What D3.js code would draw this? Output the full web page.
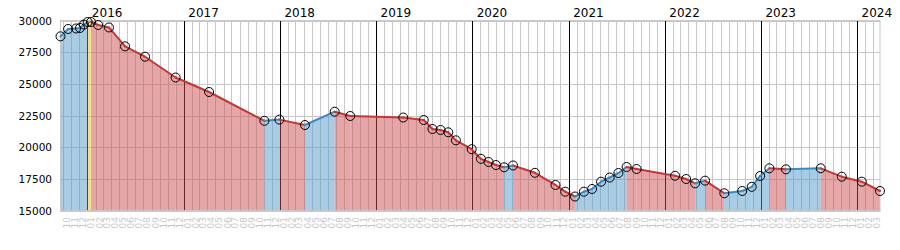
<!DOCTYPE html>
<html>
<head>
<meta charset="utf-8">
<script src="https://cdn.jsdelivr.net/npm/d3@7"></script>
<style>
  body { margin: 0; background: #fff; }
  svg text { font-family: "DejaVu Sans", Verdana, sans-serif; }
</style>
</head>
<body>
<svg id="chart" width="900" height="250"></svg>
<script>
// measurement dates and values
const dates = [
  "2015-09-21", "2015-10-20", "2015-11-19", "2015-12-04", "2015-12-19",
  "2016-01-02", "2016-01-15", "2016-02-11", "2016-03-23", "2016-05-23",
  "2016-08-07", "2016-12-01", "2017-04-07", "2017-11-03", "2017-12-30",
  "2018-04-06", "2018-07-28", "2018-09-25", "2019-04-14", "2019-07-01",
  "2019-08-03", "2019-09-03", "2019-10-02", "2019-10-31", "2019-12-30",
  "2020-02-03", "2020-03-03", "2020-03-31", "2020-05-01", "2020-06-04",
  "2020-08-26", "2020-11-12", "2020-12-19", "2021-01-25", "2021-02-28",
  "2021-03-31", "2021-05-04", "2021-06-06", "2021-07-09", "2021-08-09",
  "2021-09-16", "2022-02-09", "2022-03-23", "2022-04-26", "2022-06-03",
  "2022-08-15", "2022-10-22", "2022-11-27", "2022-12-29", "2023-02-02",
  "2023-04-06", "2023-08-16", "2023-11-04", "2024-01-19", "2024-03-28"
];
const values = [
  28750, 29330, 29370, 29410, 29680,
  29880, 29880, 29645, 29450, 27960,
  27140, 25500, 24355, 22080, 22175,
  21750, 22800, 22460, 22340, 22145,
  21435, 21355, 21175, 20540, 19840,
  19080, 18830, 18590, 18410, 18555,
  17975, 17015, 16485, 16105, 16485,
  16700, 17275, 17605, 17960, 18435,
  18275, 17745, 17485, 17145, 17355,
  16360, 16540, 16870, 17725, 18330,
  18250, 18330, 17670, 17275, 16540
];
const yTicks = [15000, 17500, 20000, 22500, 25000, 27500, 30000];

const parse = d3.utcParse("%Y-%m-%d");
const points = dates.map((d, i) => ({ date: parse(d), value: values[i] }));

const plotL = 60.5, plotR = 880, plotT = 20.5, plotB = 210.5;
const svg = d3.select("#chart");

const x = d3.scaleUtc()
  .domain(d3.extent(points, d => d.date))
  .range([plotL, plotR]);
const y = d3.scaleLinear()
  .domain([15000, 30000])
  .range([plotB, plotT]);

const months = d3.utcMonth.range(d3.utcMonth.ceil(x.domain()[0]), x.domain()[1]);
const years = d3.utcYear.range(d3.utcYear.ceil(x.domain()[0]), x.domain()[1]);

// grid
svg.append("g").selectAll("line").data(yTicks).join("line")
  .attr("x1", plotL).attr("x2", plotR)
  .attr("y1", d => Math.round(y(d)) + 0.5).attr("y2", d => Math.round(y(d)) + 0.5)
  .attr("stroke", "#c8c8c8");
svg.append("g").selectAll("line").data(months).join("line")
  .attr("x1", d => Math.round(x(d)) + 0.5).attr("x2", d => Math.round(x(d)) + 0.5)
  .attr("y1", plotT).attr("y2", plotB)
  .attr("stroke", "#c8c8c8");
svg.append("g").selectAll("line").data(years).join("line")
  .attr("x1", d => Math.round(x(d)) + 0.5).attr("x2", d => Math.round(x(d)) + 0.5)
  .attr("y1", plotT).attr("y2", plotB)
  .attr("stroke", "#000");

// segments coloured by direction
const segs = d3.pairs(points).map(([a, b]) => ({
  a, b, dir: b.value > a.value ? "up" : b.value < a.value ? "down" : "flat"
}));
const fillCol = { up: "rgb(82,154,202)", down: "rgb(201,77,77)", flat: "rgb(232,192,30)" };
const lineCol = { up: "#3a8ac4", down: "#cc3333", flat: "#d4a800" };

svg.append("g").selectAll("path").data(segs).join("path")
  .attr("d", s => `M${x(s.a.date)},${y(s.a.value)}L${x(s.b.date)},${y(s.b.value)}L${x(s.b.date)},${plotB}L${x(s.a.date)},${plotB}Z`)
  .attr("fill", s => fillCol[s.dir])
  .attr("fill-opacity", 0.5);

// frame
svg.append("rect")
  .attr("x", plotL).attr("y", plotT)
  .attr("width", plotR - plotL).attr("height", plotB - plotT)
  .attr("fill", "none").attr("stroke", "#c8c8c8");
svg.append("line")
  .attr("x1", plotL - 0.5).attr("x2", plotR + 0.5)
  .attr("y1", plotB + 0.5).attr("y2", plotB + 0.5)
  .attr("stroke", "#c8c8c8").attr("stroke-width", 2);

svg.append("g").selectAll("line").data(segs).join("line")
  .attr("x1", s => x(s.a.date)).attr("y1", s => y(s.a.value))
  .attr("x2", s => x(s.b.date)).attr("y2", s => y(s.b.value))
  .attr("stroke", s => lineCol[s.dir])
  .attr("stroke-width", 2)
  .attr("stroke-linecap", "round");

svg.append("g").selectAll("circle").data(points).join("circle")
  .attr("cx", d => x(d.date)).attr("cy", d => y(d.value))
  .attr("r", 4.5)
  .attr("fill", "none")
  .attr("stroke", "#000")
  .attr("stroke-width", 1);

// labels
svg.append("g").selectAll("text").data(yTicks).join("text")
  .attr("x", 52).attr("y", d => y(d) + 4)
  .attr("text-anchor", "end")
  .attr("font-size", "10.5px")
  .attr("fill", "#000")
  .text(d => d);

svg.append("g").selectAll("text").data(years).join("text")
  .attr("x", d => x(d) + 4.5).attr("y", 16.5)
  .attr("font-size", "12px")
  .attr("fill", "#000")
  .text(d3.utcFormat("%Y"));

const fmtMonth = d3.utcFormat("%m");
svg.append("g").selectAll("text").data(months).join("text")
  .attr("transform", d => `translate(${x(d) + 7},217) rotate(-90)`)
  .attr("text-anchor", "end")
  .attr("font-size", "9px")
  .attr("fill", "#c8c8c8")
  .text(fmtMonth);
</script>
</body>
</html>
